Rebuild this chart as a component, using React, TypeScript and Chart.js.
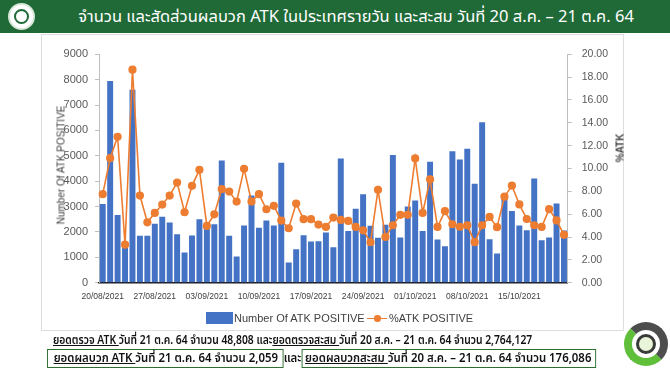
import React, { useEffect, useRef } from "react";
import { Chart, registerables } from "chart.js";

Chart.register(...registerables);

const dates: string[] = [
  "20/08/2021","21/08/2021","22/08/2021","23/08/2021","24/08/2021","25/08/2021","26/08/2021",
  "27/08/2021","28/08/2021","29/08/2021","30/08/2021","31/08/2021","01/09/2021","02/09/2021",
  "03/09/2021","04/09/2021","05/09/2021","06/09/2021","07/09/2021","08/09/2021","09/09/2021",
  "10/09/2021","11/09/2021","12/09/2021","13/09/2021","14/09/2021","15/09/2021","16/09/2021",
  "17/09/2021","18/09/2021","19/09/2021","20/09/2021","21/09/2021","22/09/2021","23/09/2021",
  "24/09/2021","25/09/2021","26/09/2021","27/09/2021","28/09/2021","29/09/2021","30/09/2021",
  "01/10/2021","02/10/2021","03/10/2021","04/10/2021","05/10/2021","06/10/2021","07/10/2021",
  "08/10/2021","09/10/2021","10/10/2021","11/10/2021","12/10/2021","13/10/2021","14/10/2021",
  "15/10/2021","16/10/2021","17/10/2021","18/10/2021","19/10/2021","20/10/2021","21/10/2021",
];

const positiveCounts: number[] = [
  3100, 7950, 2670, 1370, 7600, 1850, 1850,
  2320, 2600, 2370, 1910, 1190, 1860, 2500,
  2300, 2300, 4820, 1850, 1030, 2250, 3440,
  2170, 2450, 2250, 4730, 800, 1320, 1870,
  1620, 1630, 1980, 1400, 4890, 2040, 2910,
  3490, 2240, 1770, 2280, 5030, 1780, 3000,
  3240, 2040, 4770, 1700, 1440, 5180, 4850,
  5280, 3900, 6320, 1710, 1150, 3310, 2830,
  2250, 2070, 4110, 1670, 1780, 3120, 2059,
];

const positivePercent: number[] = [
  7.75, 10.9, 12.78, 3.33, 18.65, 7.63, 5.29,
  6.11, 6.84, 7.63, 8.77, 6.17, 8.48, 9.88,
  4.97, 5.99, 8.2, 7.98, 7.1, 9.97, 7.1,
  7.75, 6.43, 6.73, 5.44, 4.77, 6.93, 5.56,
  5.56, 5.09, 4.88, 5.7, 5.5, 5.41, 4.88,
  4.59, 3.54, 8.13, 4.0, 5.03, 5.94, 5.94,
  10.88, 6.11, 9.04, 4.88, 6.27, 5.12, 4.9,
  5.02, 3.55, 5.03, 5.76, 4.86, 7.53, 8.5,
  6.85, 5.58, 5.03, 4.88, 6.44, 5.45, 4.19,
];

const leftTicks = { min: 0, max: 9000, step: 1000 };
const rightTicks = { min: 0, max: 20, step: 1 };

const titleText = "จำนวน และสัดส่วนผลบวก ATK ในประเทศรายวัน และสะสม วันที่ 20 ส.ค. – 21 ต.ค. 64";

const BLUE = "#4472C4";
const ORANGE = "#ED7D31";
const GREEN = "#1f6a37";
const THAI = "'Noto Sans Thai', 'Noto Sans', 'DejaVu Sans', sans-serif";
const AXISFONT = "'Liberation Sans', Arial, sans-serif";

export default function App() {
  const ref = useRef<HTMLCanvasElement | null>(null);

  useEffect(() => {
    if (!ref.current) return;
    const chart = new Chart(ref.current, {
      type: "bar",
      data: {
        labels: dates,
        datasets: [
          {
            type: "line",
            label: "%ATK POSITIVE",
            data: positivePercent,
            yAxisID: "y1",
            borderColor: ORANGE,
            backgroundColor: ORANGE,
            borderWidth: 1.6,
            pointRadius: 3.3,
            pointBackgroundColor: ORANGE,
            pointBorderColor: ORANGE,
            tension: 0,
            order: 0,
          } as any,
          {
            type: "bar",
            label: "Number Of ATK POSITIVE",
            data: positiveCounts,
            yAxisID: "y",
            backgroundColor: BLUE,
            borderWidth: 0,
            barPercentage: 0.8,
            categoryPercentage: 1,
            order: 1,
          },
        ],
      },
      options: {
        responsive: false,
        animation: false,
        layout: { padding: { top: 20.3, bottom: 27.3, left: 0, right: 0 } },
        plugins: { legend: { display: false }, tooltip: { enabled: false } },
        scales: {
          x: {
            offset: true,
            grid: { display: false, drawTicks: false },
            border: { display: true, color: "#1a1a1a", width: 1.5 },
            ticks: {
              autoSkip: false,
              maxRotation: 0,
              minRotation: 0,
              padding: 9,
              color: "#404040",
              font: { size: 8.5, family: AXISFONT },
              callback: (_v: any, i: number) => (i % 7 === 0 ? dates[i] : ""),
            },
            afterFit: (s: any) => { s.height = 20; },
          },
          y: {
            position: "left",
            min: leftTicks.min,
            max: leftTicks.max,
            grid: { display: true, drawOnChartArea: false, drawTicks: true, tickLength: 4, color: "#bfbfbf" },
            border: { display: true, color: "#bfbfbf", width: 1 },
            ticks: {
              stepSize: leftTicks.step,
              padding: 7,
              color: "#595959",
              font: { size: 11, family: AXISFONT },
              callback: (v: any) => String(v),
            },
            afterFit: (s: any) => { s.width = 57; },
          },
          y1: {
            position: "right",
            min: rightTicks.min,
            max: rightTicks.max,
            grid: { display: true, drawOnChartArea: false, drawTicks: true, tickLength: 4, color: "#bfbfbf" },
            border: { display: true, color: "#bfbfbf", width: 1 },
            ticks: {
              stepSize: rightTicks.step,
              padding: 10,
              color: "#595959",
              font: { size: 10.5, family: AXISFONT },
              callback: (v: any) => Number(v).toFixed(2),
            },
            afterFit: (s: any) => { s.width = 56.3; },
          },
        },
      },
    });
    return () => chart.destroy();
  }, []);

  const u: React.CSSProperties = { textDecoration: "underline" };
  const lineStyle: React.CSSProperties = {
    position: "absolute",
    fontSize: 12,
    fontWeight: 600,
    color: "#111",
    whiteSpace: "nowrap",
    lineHeight: "16px",
    transformOrigin: "left center",
  };

  return (
    <div style={{ position: "absolute", left: 0, top: 0, width: 670, height: 378, background: "#fff", overflow: "hidden", fontFamily: THAI }}>
      {/* header */}
      <div style={{ position: "absolute", left: 0, top: 0, width: 670, height: 33, background: GREEN }} />
      <div style={{ position: "absolute", left: 8, top: 3, width: 23, height: 23, borderRadius: "50%", background: "#fff", border: "2px solid #d8e8d8" }}>
        <div style={{ position: "absolute", left: 4, top: 4, width: 11, height: 11, borderRadius: "50%", border: "2px solid " + GREEN }} />
      </div>
      <div style={{ position: "absolute", left: 56, top: 0, width: 600, height: 33, lineHeight: "33px", textAlign: "center", color: "#fff", fontSize: 16.5, whiteSpace: "nowrap" }}>
        {titleText}
      </div>

      {/* panel */}
      <div style={{ position: "absolute", left: 41, top: 34, width: 583, height: 297, border: "1px solid #dedede", boxSizing: "border-box" }} />
      <canvas ref={ref} width={582} height={296} style={{ position: "absolute", left: 42, top: 34, width: 582, height: 296 }} />

      {/* axis titles */}
      <div style={{ position: "absolute", left: 61, top: 165, transform: "translate(-50%, -50%) rotate(-90deg)", fontFamily: AXISFONT, fontSize: 10, color: "#404040", whiteSpace: "nowrap" }}>
        Number Of ATK POSITIVE
      </div>
      <div style={{ position: "absolute", left: 620, top: 148, transform: "translate(-50%, -50%) rotate(-90deg)", fontFamily: AXISFONT, fontSize: 10, fontWeight: 700, color: "#404040", whiteSpace: "nowrap" }}>
        %ATK
      </div>

      {/* legend */}
      <div style={{ position: "absolute", left: 206, top: 312, width: 27, height: 12, background: BLUE }} />
      <div style={{ position: "absolute", left: 234, top: 311, fontFamily: AXISFONT, fontSize: 11, color: "#404040", lineHeight: "14px", whiteSpace: "nowrap" }}>
        Number Of ATK POSITIVE
      </div>
      <div style={{ position: "absolute", left: 367, top: 317.5, width: 20, height: 1.6, background: ORANGE }} />
      <div style={{ position: "absolute", left: 374, top: 315, width: 6.5, height: 6.5, borderRadius: "50%", background: ORANGE }} />
      <div style={{ position: "absolute", left: 389, top: 311, fontFamily: AXISFONT, fontSize: 11, color: "#404040", lineHeight: "14px", whiteSpace: "nowrap" }}>
        %ATK POSITIVE
      </div>

      {/* summary lines */}
      <div style={{ ...lineStyle, left: 53, top: 332, transform: "scaleX(0.86)" }}>
        <span style={u}>ยอดตรวจ ATK </span>วันที่ 21 ต.ค. 64 จำนวน 48,808 และ<span style={u}>ยอดตรวจสะสม </span>วันที่ 20 ส.ค. – 21 ต.ค. 64 จำนวน 2,764,127
      </div>
      <div style={{ ...lineStyle, left: 47, top: 349, transform: "scaleX(0.95)" }}>
        <span style={{ border: "1.5px solid #2e6e2f", padding: "0 5px 1px 6px", display: "inline-block" }}>
          <span style={u}>ยอดผลบวก ATK </span>วันที่ 21 ต.ค. 64 จำนวน 2,059
        </span>
        <span>และ</span>
        <span style={{ border: "1.5px solid #2e6e2f", padding: "0 4px 1px 3px", display: "inline-block" }}>
          <span style={u}>ยอดผลบวกสะสม </span>วันที่ 20 ส.ค. – 21 ต.ค. 64 จำนวน 176,086
        </span>
      </div>

      {/* decorative 30 logo */}
      <div style={{ position: "absolute", left: 624, top: 322, width: 44, height: 44, borderRadius: "50%", boxSizing: "border-box", border: "8px solid #4d4d4d", borderLeftColor: "#5fbf3a", borderBottomColor: "#5fbf3a" }} />
      <div style={{ position: "absolute", left: 636, top: 334, width: 20, height: 20, borderRadius: "50%", boxSizing: "border-box", border: "3px solid #3a3a3a", background: "#e8f5d8" }} />
    </div>
  );
}
